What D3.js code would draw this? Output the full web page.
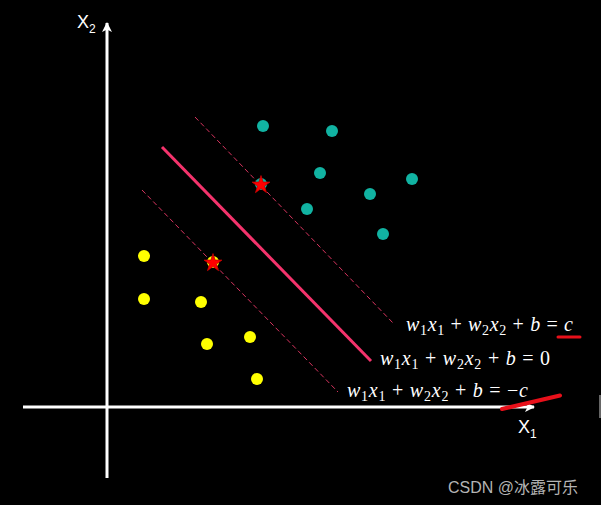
<!DOCTYPE html>
<html>
<head>
<meta charset="utf-8">
<script src="https://cdn.jsdelivr.net/npm/d3@7"></script>
<style>
  html, body { margin: 0; padding: 0; background: #000; }
  svg { display: block; }
</style>
</head>
<body>
<div id="chart"></div>
<script>
// SVM margin sketch - two classes, separating line and the two margin lines

// class +1 (teal) points, [x1, x2]
const positivePoints = [
    [39, 70.25], [56.25, 69], [53.25, 58.5], [76.25, 57],
    [65.75, 53.25], [50, 49.5], [69, 43.25], [38.5, 55.75]
];
// class -1 (yellow) points
const negativePoints = [
    [9.25, 37.75], [9.25, 27], [23.5, 26.25], [25, 15.75],
    [35.75, 17.5], [37.5, 7], [26.5, 36.25]
];
// support vectors (marked with a star)
const supportVectors = [[38.5, 55.75], [26.5, 36.25]];

// decision boundary and margins, [start, end]
const boundaryLine = [[13.75, 65], [66, 11.5]];
const upperMargin = [[22, 72.5], [71.5, 21]];
const lowerMargin = [[8.75, 54.25], [57.75, 3.75]];
const equationRhs = ["c", "0", "\u2212c"];

// axis extents
const axisX = [-21, 106.75];
const axisY = [-17.75, 96];

const width = 601;
const height = 505;

const svg = d3.select("#chart").append("svg")
    .attr("width", width)
    .attr("height", height)
    .style("background", "#000");

const x = d3.scaleLinear().domain([0, 100]).range([107, 507]);
const y = d3.scaleLinear().domain([0, 100]).range([407, 7]);

// arrow markers
const defs = svg.append("defs");
defs.append("marker")
    .attr("id", "arrow")
    .attr("viewBox", "0 0 10 10")
    .attr("refX", 9)
    .attr("refY", 5)
    .attr("markerUnits", "userSpaceOnUse")
    .attr("markerWidth", 11)
    .attr("markerHeight", 10)
    .attr("orient", "auto")
    .append("path")
    .attr("d", "M0,0 L10,5 L0,10 L2.5,5 Z")
    .attr("fill", "#fff");

// axes
svg.append("line")
    .attr("x1", x(axisX[0])).attr("y1", y(0))
    .attr("x2", x(axisX[1])).attr("y2", y(0))
    .attr("stroke", "#fff")
    .attr("stroke-width", 3)
    .attr("marker-end", "url(#arrow)");

svg.append("line")
    .attr("x1", x(0)).attr("y1", y(axisY[0]))
    .attr("x2", x(0)).attr("y2", y(axisY[1]))
    .attr("stroke", "#fff")
    .attr("stroke-width", 3)
    .attr("marker-end", "url(#arrow)");

// axis labels
function axisLabel(px, py, sub) {
    const t = svg.append("text")
        .attr("x", px)
        .attr("y", py)
        .style("font-family", "'Liberation Sans', Arial, sans-serif")
        .style("font-size", "18px")
        .style("fill", "#fff");
    t.append("tspan").text("X");
    t.append("tspan").attr("dy", 5).style("font-size", "12px").text(sub);
}
axisLabel(x(axisX[1]) - 16, y(0) + 26, "1");
axisLabel(x(0) - 30, y(axisY[1]) + 5, "2");

// margin lines (dashed) and boundary (solid)
const line = d3.line().x(d => x(d[0])).y(d => y(d[1]));

[upperMargin, lowerMargin].forEach(seg => {
    svg.append("path")
        .attr("d", line(seg))
        .attr("fill", "none")
        .attr("stroke", "#d8345f")
        .attr("stroke-width", 1)
        .attr("stroke-dasharray", "5,3");
});

svg.append("path")
    .attr("d", line(boundaryLine))
    .attr("fill", "none")
    .attr("stroke", "#f4336c")
    .attr("stroke-width", 3);

// points
svg.selectAll("circle.pos")
    .data(positivePoints)
    .enter().append("circle")
    .attr("class", "pos")
    .attr("cx", d => x(d[0]))
    .attr("cy", d => y(d[1]))
    .attr("r", 6)
    .attr("fill", "#11b3a2");

svg.selectAll("circle.neg")
    .data(negativePoints)
    .enter().append("circle")
    .attr("class", "neg")
    .attr("cx", d => x(d[0]))
    .attr("cy", d => y(d[1]))
    .attr("r", 6)
    .attr("fill", "#ffff00");

// stars on the support vectors
svg.selectAll("path.star")
    .data(supportVectors)
    .enter().append("path")
    .attr("class", "star")
    .attr("transform", d => `translate(${x(d[0])},${y(d[1]) + 1})`)
    .attr("d", d3.symbol().type(d3.symbolStar).size(100))
    .attr("fill", "#ff0000")
    .attr("stroke", "#c00000")
    .attr("stroke-width", 0.8);

// equations next to the line ends
const labelEnds = [upperMargin[1], boundaryLine[1], lowerMargin[1]];
const labelOffsets = [[13, 8], [9, 4], [9, 5]];
const labelWidths = [167, 170, 181];

labelEnds.forEach((end, i) => {
    const t = svg.append("text")
        .attr("x", x(end[0]) + labelOffsets[i][0])
        .attr("y", y(end[1]) + labelOffsets[i][1])
        .attr("textLength", labelWidths[i])
        .attr("lengthAdjust", "spacing")
        .style("font-family", "'Liberation Serif', 'DejaVu Serif', serif")
        .style("font-size", "20px")
        .style("fill", "#fff");
    const parts = [
        ["w", "i"], ["1", "s"], ["x", "i"], ["1", "s"], [" + ", "n"],
        ["w", "i"], ["2", "s"], ["x", "i"], ["2", "s"], [" + ", "n"],
        ["b", "i"], [" = ", "n"]
    ];
    let shifted = false;
    parts.forEach(p => {
        const ts = t.append("tspan").text(p[0]);
        if (p[1] === "i") ts.style("font-style", "italic");
        if (p[1] === "s") {
            ts.style("font-size", "14px").attr("dy", 4);
            shifted = true;
        } else if (shifted) {
            ts.attr("dy", -4);
            shifted = false;
        }
    });
    const rhs = equationRhs[i];
    if (rhs.startsWith("\u2212")) {
        t.append("tspan").text("\u2212");
        t.append("tspan").style("font-style", "italic").text(rhs.slice(1));
    } else {
        t.append("tspan").style("font-style", rhs === "c" ? "italic" : "normal").text(rhs);
    }
});

// red hand-drawn marks
svg.append("line")
    .attr("x1", 558).attr("y1", 337)
    .attr("x2", 580).attr("y2", 337)
    .attr("stroke", "#e8101a")
    .attr("stroke-width", 3)
    .attr("stroke-linecap", "round");

svg.append("line")
    .attr("x1", 502).attr("y1", 409)
    .attr("x2", 560).attr("y2", 395.5)
    .attr("stroke", "#e8101a")
    .attr("stroke-width", 4)
    .attr("stroke-linecap", "round");

// thin edge line at right border
svg.append("line")
    .attr("x1", 600).attr("y1", 395)
    .attr("x2", 600).attr("y2", 418)
    .attr("stroke", "#ccc")
    .attr("stroke-width", 1);

// watermark
svg.append("text")
    .attr("x", 448)
    .attr("y", 493)
    .style("font-family", "'Liberation Sans', 'Noto Sans CJK SC', sans-serif")
    .style("font-size", "16px")
    .style("fill", "#b4b4b4")
    .text("CSDN @冰露可乐");
</script>
</body>
</html>
